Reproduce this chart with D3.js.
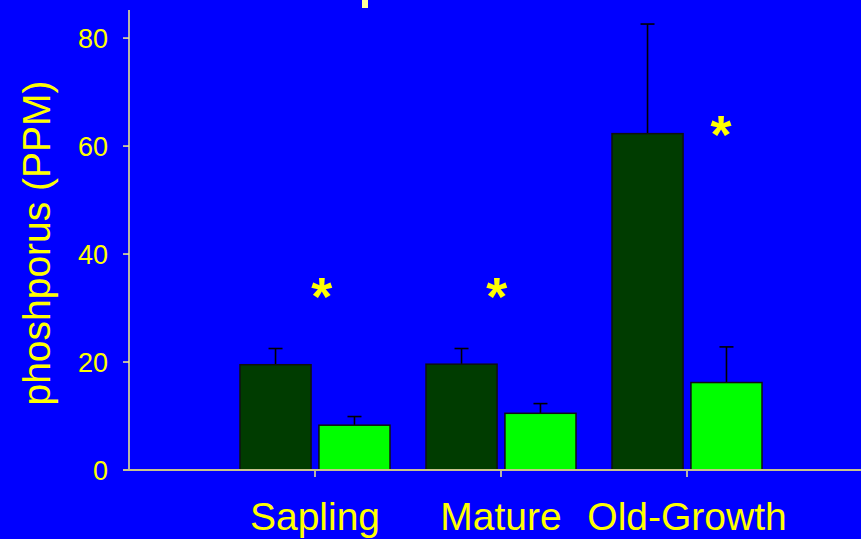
<!DOCTYPE html>
<html>
<head>
<meta charset="utf-8">
<script src="https://cdn.jsdelivr.net/npm/d3@7"></script>
<style>
html,body{margin:0;padding:0;background:#0000ff;}
svg{display:block;}
</style>
</head>
<body>
<svg id="chart" width="861" height="539"></svg>
<script>
// ---- data ----
const categories = ["Sapling", "Mature", "Old-Growth"];
const series = ["dark", "light"];
const darkValues = [19.5, 19.6, 62.3];
const darkErrors = [3.0, 2.9, 20.3];
const lightValues = [8.3, 10.5, 16.2];
const lightErrors = [1.6, 1.8, 6.6];
const yTicks = [0, 20, 40, 60, 80];
const starCategories = ["Sapling", "Mature", "Old-Growth"];
const starOffsets = [0.036, -0.023, 0.183]; // fraction of category step
const starValues = [35.0, 35.0, 65.0];
const yTitle = "phoshporus (PPM)";

// ---- layout ----
const W = 861, H = 539;
const svg = d3.select("#chart");
const yellow = "#ffff00";
const axisYellow = "#f4f08a";

svg.append("rect").attr("width", W).attr("height", H).attr("fill", "#0000ff");

const y = d3.scaleLinear().domain([0, 85.2]).range([470, 10]);
const x = d3.scaleBand().domain(categories).range([222, 780]).paddingInner(0).paddingOuter(0);
const xs = d3.scaleBand().domain(series).range([18, 168]).paddingInner(0.1);

const colors = {dark: "#003c00", light: "#00ff00"};
const rows = [];
categories.forEach((c, i) => {
  rows.push({cat: c, s: "dark", v: darkValues[i], e: darkErrors[i]});
  rows.push({cat: c, s: "light", v: lightValues[i], e: lightErrors[i]});
});

// title fragment cut off at top
svg.append("rect").attr("x", 362).attr("y", 0).attr("width", 6).attr("height", 8).attr("fill", "#ffff99");

// error bars
const eb = svg.append("g");
rows.forEach(d => {
  const cx = x(d.cat) + xs(d.s) + xs.bandwidth() / 2;
  eb.append("line").attr("x1", cx).attr("x2", cx).attr("y1", y(d.v)).attr("y2", y(d.v + d.e))
    .attr("stroke", "#000").attr("stroke-width", 1.6);
  eb.append("line").attr("x1", cx - 7).attr("x2", cx + 7).attr("y1", y(d.v + d.e)).attr("y2", y(d.v + d.e))
    .attr("stroke", "#000").attr("stroke-width", 1.6);
});

// bars
svg.append("g").selectAll("rect").data(rows).join("rect")
  .attr("x", d => x(d.cat) + xs(d.s))
  .attr("y", d => y(d.v))
  .attr("width", xs.bandwidth())
  .attr("height", d => y(0) - y(d.v))
  .attr("fill", d => colors[d.s])
  .attr("stroke", "#101010")
  .attr("stroke-width", 1.5);

// y axis
const yAxis = svg.append("g");
yAxis.append("line").attr("x1", 129).attr("x2", 129).attr("y1", y(85.2)).attr("y2", y(0))
  .attr("stroke", axisYellow).attr("stroke-width", 1.5);
yTicks.forEach(t => {
  yAxis.append("line").attr("x1", 123).attr("x2", 129).attr("y1", y(t)).attr("y2", y(t))
    .attr("stroke", axisYellow).attr("stroke-width", 1.5);
  yAxis.append("text").attr("x", 108).attr("y", y(t)).attr("dy", "0.36em")
    .attr("text-anchor", "end").attr("fill", yellow)
    .attr("font-family", "Liberation Sans, Arial, sans-serif").attr("font-size", 27).text(t);
});

// x axis
const xAxis = svg.append("g");
xAxis.append("line").attr("x1", 123).attr("x2", W).attr("y1", y(0)).attr("y2", y(0))
  .attr("stroke", "#c8c48c").attr("stroke-width", 2);
categories.forEach(c => {
  const cx = x(c) + x.bandwidth() / 2;
  xAxis.append("line").attr("x1", cx).attr("x2", cx).attr("y1", y(0) + 1).attr("y2", y(0) + 7)
    .attr("stroke", axisYellow).attr("stroke-width", 1.5);
  xAxis.append("text").attr("x", cx).attr("y", 530).attr("text-anchor", "middle")
    .attr("fill", yellow).attr("font-family", "Liberation Sans, Arial, sans-serif")
    .attr("font-size", 39).text(c);
});

// y title
svg.append("text").attr("transform", `translate(50,${243}) rotate(-90)`)
  .attr("text-anchor", "middle").attr("fill", yellow)
  .attr("font-family", "Liberation Sans, Arial, sans-serif").attr("font-size", 39)
  .text(yTitle);

// asterisks
starCategories.forEach((c, i) => {
  const cx = x(c) + x.bandwidth() / 2 + starOffsets[i] * x.step();
  svg.append("text").attr("x", cx).attr("y", y(starValues[i])).attr("dy", "0.62em")
    .attr("text-anchor", "middle").attr("fill", yellow)
    .attr("font-family", "Liberation Sans, Arial, sans-serif").attr("font-weight", "bold")
    .attr("font-size", 54).text("*");
});
</script>
</body>
</html>
